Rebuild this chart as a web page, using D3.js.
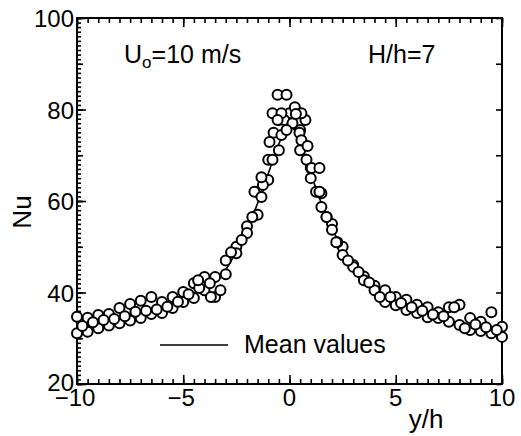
<!DOCTYPE html>
<html>
<head>
<meta charset="utf-8">
<script src="https://cdn.jsdelivr.net/npm/d3@7"></script>
<style>
  body { margin: 0; background: #fff; }
  text { font-family: "Liberation Sans", Arial, sans-serif; fill: #000; }
</style>
</head>
<body>
<div class="chart"></div>
<script>
// lateral position grid
var gridA = d3.range(-10, 10.01, 0.5),
    gridC = d3.range(-9.75, 9.76, 0.5)

// Nu values, upper run (x = gridA)
var nuA = [34.7, 34.5, 35.1, 35.3, 36.6, 37.5, 38.2, 39.0, 37.9, 39.0,
           40.1, 42.0, 43.4, 43.4, 47.0, 50.0, 54.5, 62.0, 69.0, 77.7,
           79.2, 75.5, 67.2, 61.7, 55.0, 50.0, 46.0, 43.5, 41.5, 40.5,
           39.0, 38.4, 37.3, 36.8, 35.7, 36.8, 37.3, 34.4, 33.6, 35.7, 32.5]
// lower run (x = gridA)
var nuB = [31.1, 31.4, 32.2, 32.8, 33.3, 33.9, 34.4, 35.3, 35.5, 36.6,
           37.9, 38.8, 40.5, 39.0, 44.0, 48.6, 53.0, 57.0, 64.6, 71.1,
           77.0, 71.1, 65.0, 58.7, 53.7, 48.2, 45.6, 42.7, 40.5, 37.9,
           37.2, 36.2, 35.5, 34.6, 34.4, 33.6, 32.9, 31.8, 31.6, 31.1, 30.3]
// middle run (x = gridC)
var nuC = [32.7, 33.5, 34.0, 34.2, 34.8, 35.8, 36.0, 36.3, 36.9, 38.0,
           39.6, 41.0, 42.0, 40.5, 48.8, 51.5, 56.5, 63.5, 74.9, 77.7,
           80.5, 77.7, 62.0, 56.5, 51.0, 47.0, 44.5, 42.2, 39.0, 39.0,
           37.7, 36.8, 36.0, 35.2, 34.8, 36.8, 32.2, 33.0, 32.4, 31.8]
// extra points around the peak
var peakX  = [-0.56, -0.14, -0.8, -0.38, 0.56, 0.14, -0.56, -0.38, 0.47, -0.94,
              0.56, 0.8, 1.04, 1.41, -1.32, -1.65, -1.32, 1.41, -0.8, 0.85, 0.3, -0.14,
              -3.7, -4.3, 2.2, 1.74]
var peakNu = [83.2, 83.2, 79.2, 79.2, 79.2, 77.0, 77.7, 74.4, 74.9, 72.9,
              73.3, 69.0, 67.2, 67.2, 65.2, 62.0, 60.9, 62.0, 69.0, 72.0, 79.0, 75.5,
              39.0, 42.7, 51.0, 56.5]

// mean values curve
var meanX  = [-10, -9.5, -9, -8.5, -8, -7.5, -7, -6.5, -6, -5.5, -5, -4.5, -4, -3.5, -3,
              -2.5, -2, -1.5, -1, -0.5, 0, 0.5, 1, 1.5, 2, 2.5, 3, 3.5, 4, 4.5, 5,
              5.5, 6, 6.5, 7, 7.5, 8, 8.5, 9, 9.5, 10]
var meanNu = [32.8, 33.2, 33.6, 34.1, 34.7, 35.3, 35.9, 36.5, 37.1, 37.8, 38.6, 39.6, 40.8, 42.3, 45.0,
              49.0, 53.8, 59.5, 66.0, 72.5, 76.5, 73.0, 66.0, 59.5, 54.0, 49.5, 46.0, 43.5, 41.5, 39.8, 38.5,
              37.4, 36.4, 35.6, 34.8, 34.0, 33.3, 32.6, 32.0, 31.4, 30.8]

var xTicks = [-10, -5, 0, 5, 10],
    yTicks = [20, 40, 60, 80, 100]

document.addEventListener("DOMContentLoaded", draw)
function draw(){
  var width = 521, height = 436
  var left = 77, right = 502, top = 18, bottom = 384

  var svg = d3.select(".chart").append("svg")
    .attr("width", width)
    .attr("height", height)

  var x = d3.scaleLinear().domain([-10, 10]).range([left, right]),
      y = d3.scaleLinear().domain([20, 100]).range([bottom, top])

  // ticks, all pointing into the plot
  function ticks(axis, values, size, tx, ty){
    var g = svg.append("g")
      .attr("transform", `translate(${tx},${ty})`)
      .call(axis.tickValues(values).tickSize(size).tickFormat(""))
    g.select(".domain").remove()
    g.selectAll("line").attr("stroke", "#000").attr("stroke-width", 1.6)
    return g
  }
  var xMinor = d3.range(-10, 10.01, 0.5),
      yMinor = d3.range(20, 100.01, 1)
  ticks(d3.axisBottom(x), xMinor, -5, 0, bottom)
  ticks(d3.axisBottom(x), xTicks, -9, 0, bottom)
  ticks(d3.axisTop(x), xMinor, -5, 0, top)
  ticks(d3.axisTop(x), xTicks, -9, 0, top)
  ticks(d3.axisLeft(y), yMinor, -4, left, 0)
  ticks(d3.axisLeft(y), d3.range(20, 101, 10), -6, left, 0)
  ticks(d3.axisLeft(y), yTicks, -9, left, 0)
  ticks(d3.axisRight(y), d3.range(20, 101, 10), -6, right, 0)

  // frame
  svg.append("rect")
    .attr("x", left).attr("y", top)
    .attr("width", right - left).attr("height", bottom - top)
    .attr("fill", "none").attr("stroke", "#000").attr("stroke-width", 2)

  // tick labels
  svg.append("g").selectAll("text")
    .data(xTicks).enter().append("text")
    .attr("x", d => x(d) - (d < 0 ? 2 : 0))
    .attr("y", 406)
    .attr("text-anchor", "middle")
    .attr("font-size", 24)
    .text(d => d < 0 ? "\u2212" + Math.abs(d) : d)
  svg.append("g").selectAll("text")
    .data(yTicks).enter().append("text")
    .attr("x", left - 3)
    .attr("y", d => y(d) + (d == 20 ? 7 : 9))
    .attr("text-anchor", "end")
    .attr("font-size", 24)
    .text(d => d)

  // axis titles
  svg.append("text")
    .attr("x", 426).attr("y", 428)
    .attr("text-anchor", "middle").attr("font-size", 26)
    .text("y/h")
  svg.append("text")
    .attr("transform", "translate(31,212) rotate(-90)")
    .attr("text-anchor", "middle").attr("font-size", 26)
    .text("Nu")

  // annotations
  var u = svg.append("text").attr("x", 124).attr("y", 63).attr("font-size", 25)
  u.append("tspan").text("U")
  u.append("tspan").attr("dy", 5).attr("font-size", 17).text("o")
  u.append("tspan").attr("dy", -5).text("=10 m/s")
  svg.append("text")
    .attr("x", 368).attr("y", 63).attr("font-size", 25)
    .text("H/h=7")

  // mean curve
  var line = d3.line()
    .x(d => x(d[0]))
    .y(d => y(d[1]))
    .curve(d3.curveMonotoneX)
  svg.append("path")
    .datum(d3.zip(meanX, meanNu))
    .attr("d", line)
    .attr("fill", "none").attr("stroke", "#000").attr("stroke-width", 1.6)

  // measured points
  var pts = d3.zip(gridA, nuA)
    .concat(d3.zip(gridA, nuB))
    .concat(d3.zip(gridC, nuC))
    .concat(d3.zip(peakX, peakNu))
  svg.append("g").selectAll("circle")
    .data(pts).enter().append("circle")
    .attr("cx", d => x(d[0]))
    .attr("cy", d => y(d[1]))
    .attr("r", 5)
    .attr("fill", "#fff")
    .attr("stroke", "#000")
    .attr("stroke-width", 2)

  // legend
  svg.append("line")
    .attr("x1", 160).attr("x2", 228)
    .attr("y1", 345).attr("y2", 345)
    .attr("stroke", "#000").attr("stroke-width", 1.6)
  svg.append("text")
    .attr("x", 244).attr("y", 353).attr("font-size", 25)
    .text("Mean values")
}
</script>
</body>
</html>
